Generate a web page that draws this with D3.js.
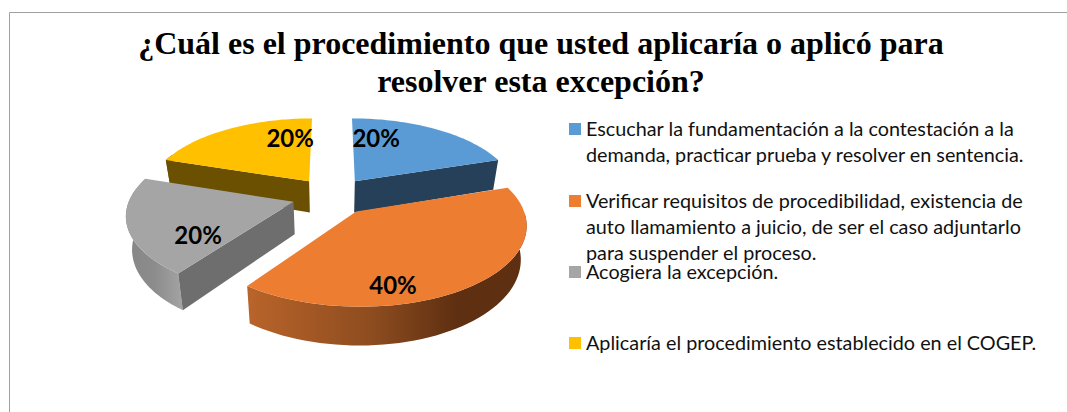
<!DOCTYPE html>
<html>
<head>
<meta charset="utf-8">
<script src="https://cdn.jsdelivr.net/npm/d3@7"></script>
<style>
  html, body { margin: 0; padding: 0; background: #fff; }
  svg { display: block; }
</style>
</head>
<body>
<div id="chart"></div>
<script>
var titleLines = ['¿Cuál es el procedimiento que usted aplicaría o aplicó para', 'resolver esta excepción?'];
var categories = [
  ['Escuchar la fundamentación a la contestación a la', 'demanda, practicar prueba y resolver en sentencia.'],
  ['Verificar requisitos de procedibilidad, existencia de', 'auto llamamiento a juicio, de ser el caso adjuntarlo', 'para suspender el proceso.'],
  ['Acogiera la excepción.'],
  ['Aplicaría el procedimiento establecido en el COGEP.']
];
var values = [20, 40, 20, 20];
var topColors = ['#5b9bd5', '#ed7d31', '#a5a5a5', '#ffc000'];
var wallColors = ['#254058', '#8a4a1d', '#6e6e6e', '#6a5000'];
var legendY = [129, 201, 272, 343];

var svg = d3.select('#chart').append('svg')
    .attr('width', 1067)
    .attr('height', 412);

// frame of the chart: only top and left edges show in the picture
svg.append('path')
  .attr('d', 'M9.5,412V12.5H1067')
  .attr('fill', 'none')
  .attr('stroke', '#a0a0a0')
  .attr('stroke-width', 1);

svg.append('g').selectAll('text')
  .data(titleLines)
  .enter().append('text')
  .attr('x', 541)
  .attr('y', function(d, i) { return 54 + i * 38; })
  .attr('text-anchor', 'middle')
  .style('font', 'bold 32px "Liberation Serif"')
  .style('fill', '#000')
  .text(function(d) { return d; });

// perspective pie: d3.pie gives the angles, project() puts them on screen
var cx = 332, cy = 196, radius = 163, explode = 40, tilt = 0.467, persp = 0.0009, depth = 32;

function project(u, v, low) {
  var s = 1 / (1 + persp * v);
  var x = cx + u * s;
  var y = cy - tilt * v * s;
  if (low) {
    x = cx + (x - cx) * 0.97;
    y += depth * s;
  }
  return [x, y];
}

var pieData = d3.pie().sort(null)(values);
var line = d3.line().curve(d3.curveLinearClosed);

function rim(d, a) {
  var mid = (d.startAngle + d.endAngle) / 2;
  return [explode * Math.sin(mid) + radius * Math.sin(a), explode * Math.cos(mid) + radius * Math.cos(a)];
}
function apex(d) {
  var mid = (d.startAngle + d.endAngle) / 2;
  return [explode * Math.sin(mid), explode * Math.cos(mid)];
}
function arcAngles(d) {
  return d3.range(0, 61).map(function(i) { return d.startAngle + (d.endAngle - d.startAngle) * i / 60; });
}

var defs = svg.append('defs');
function sideGradient(id, stops) {
  var g = defs.append('linearGradient').attr('id', id);
  stops.forEach(function(s) {
    g.append('stop').attr('offset', s[0]).attr('stop-color', s[1]);
  });
}
sideGradient('sideOrange', [[0, '#b9642a'], [0.45, '#8d4c1f'], [0.75, '#5e2f11'], [1, '#5e2f11']]);
sideGradient('sideGray', [[0, '#868686'], [0.5, '#8c8c8c'], [1, '#a4a4a4']]);

var outerFill = [wallColors[0], 'url(#sideOrange)', 'url(#sideGray)', wallColors[3]];

// far slices first so the nearer ones cover their walls
var order = [3, 0, 2, 1];
var slices = svg.append('g').selectAll('g')
  .data(order.map(function(i) { return pieData[i]; }))
  .enter().append('g');

slices.each(function(d) {
  var g = d3.select(this), i = d.index;
  var angles = arcAngles(d);
  var a = apex(d);

  // outer wall, only the part facing the viewer
  var front = angles.filter(function(t) { return Math.cos(t) < 0.02 || Math.sin(t) < -0.5 && Math.cos(t) < 0.4; });
  if (front.length > 1) {
    var upper = front.map(function(t) { var r = rim(d, t); return project(r[0], r[1], false); });
    var lower = front.map(function(t) { var r = rim(d, t); return project(r[0], r[1], true); }).reverse();
    g.append('path').attr('d', line(upper.concat(lower))).attr('fill', outerFill[i]);
  }

  // radial wall on the side turned to the viewer
  var sideAngle = i === 0 ? d.endAngle : d.startAngle;
  if (i !== 1) {
    var r = rim(d, sideAngle);
    g.append('path')
      .attr('d', line([project(a[0], a[1], false), project(r[0], r[1], false), project(r[0], r[1], true), project(a[0], a[1], true)]))
      .attr('fill', wallColors[i]);
  }

  // top face
  var top = [project(a[0], a[1], false)].concat(angles.map(function(t) {
    var p = rim(d, t);
    return project(p[0], p[1], false);
  }));
  g.append('path').attr('d', line(top)).attr('fill', topColors[i]);
});

// where each value label sits inside its slice
var labelRadius = [0.64, 0.84, 0.68, 0.64];
var labelAngle = [0.2, 0.667, 0.206, 0.82];
function labelPos(d) {
  var t = d.startAngle + (d.endAngle - d.startAngle) * labelAngle[d.index];
  var a = apex(d);
  var r = radius * labelRadius[d.index];
  return project(a[0] + r * Math.sin(t), a[1] + r * Math.cos(t), false);
}
svg.append('g').selectAll('text')
  .data(pieData)
  .enter().append('text')
  .attr('x', function(d) { return labelPos(d)[0]; })
  .attr('y', function(d) { return labelPos(d)[1] - 1.5; })
  .attr('dy', '0.35em')
  .attr('text-anchor', 'middle')
  .style('font', 'bold 24px Lato')
  .style('fill', '#000')
  .text(function(d) { return Math.round(d.data) + '%'; });

// legend
var legend = svg.append('g').selectAll('g')
  .data(categories)
  .enter().append('g')
  .attr('transform', function(d, i) { return 'translate(569,' + legendY[i] + ')'; });

legend.append('rect')
  .attr('y', -6)
  .attr('width', 12)
  .attr('height', 12)
  .attr('fill', function(d, i) { return topColors[i]; });

legend.selectAll('text')
  .data(function(d) { return d; })
  .enter().append('text')
  .attr('x', 17)
  .attr('y', function(d, i) { return 7 + i * 26; })
  .style('font', '19.8px Lato')
  .style('fill', '#111')
  .text(function(d) { return d; });
</script>
</body>
</html>
